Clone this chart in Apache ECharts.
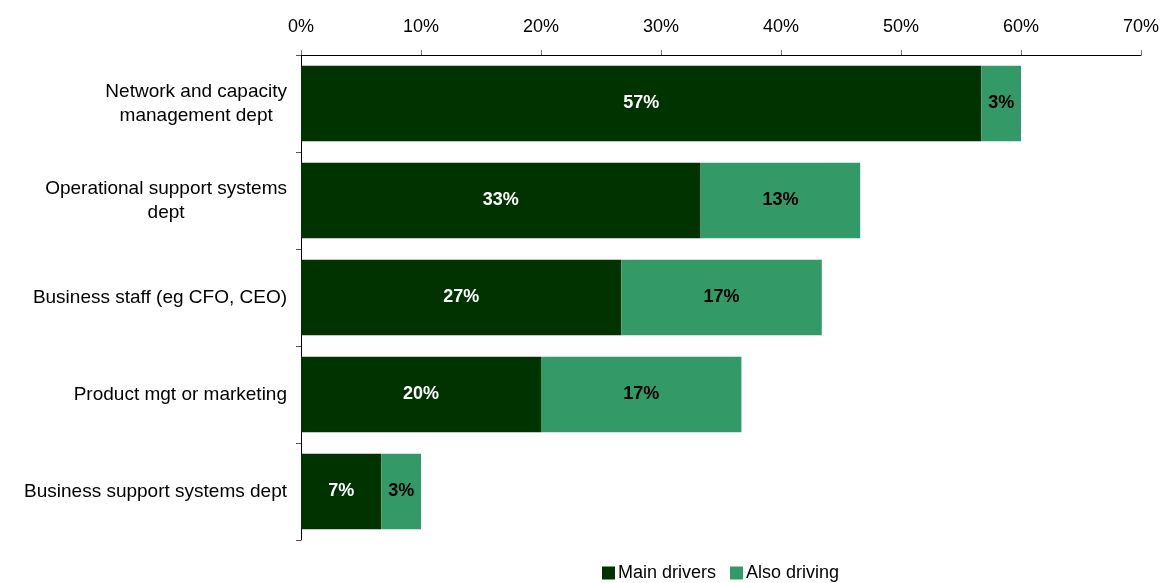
<!DOCTYPE html>
<html>
<head>
<meta charset="utf-8">
<script src="https://cdn.jsdelivr.net/npm/echarts@6.0.0/dist/echarts.min.js"></script>
<style>
  html, body { margin: 0; padding: 0; background: #fff; }
  #chart { width: 1168px; height: 583px; }
</style>
</head>
<body>
<div id="chart"></div>
<script>
const categories = [
  'Network and capacity\nmanagement dept',
  'Operational support systems\ndept',
  'Business staff (eg CFO, CEO)',
  'Product mgt or marketing',
  'Business support systems dept'
]
const mainDrivers = [56.7, 33.3, 26.7, 20.0, 6.7]
const alsoDriving = [3.3, 13.3, 16.7, 16.7, 3.3]
const seriesNames = ['Main drivers', 'Also driving']

const font = 'Liberation Sans, Arial, sans-serif'

const chart = echarts.init(document.getElementById('chart'))

const barLabel = (color) => ({
  show: true,
  position: 'inside',
  color: color,
  fontFamily: font,
  fontSize: 18,
  fontWeight: 'bold',
  formatter: (p) => Math.round(p.value) + '%'
})

chart.setOption({
  animation: false,
  grid: { left: 301, right: 27, top: 55, bottom: 43, containLabel: false },
  legend: {
    top: 559,
    left: 597,
    itemWidth: 13,
    itemHeight: 13,
    itemGap: 14,
    icon: 'rect',
    textStyle: { fontFamily: font, fontSize: 18, color: '#000', padding: [0, 0, 0, -2] },
    data: seriesNames
  },
  xAxis: {
    type: 'value',
    position: 'top',
    min: 0,
    max: 70,
    interval: 10,
    splitLine: { show: false },
    axisLine: { show: true, lineStyle: { color: '#000', width: 1 } },
    axisTick: { show: true, length: 5, lineStyle: { color: '#777' } },
    axisLabel: {
      formatter: '{value}%',
      color: '#000',
      fontFamily: font,
      fontSize: 18,
      margin: 19
    }
  },
  yAxis: {
    type: 'category',
    inverse: true,
    data: categories,
    axisLine: { show: true, lineStyle: { color: '#000', width: 1 } },
    axisTick: { show: true, length: 5, alignWithLabel: false, lineStyle: { color: '#555' } },
    axisLabel: {
      color: '#000',
      fontFamily: font,
      fontSize: 19,
      margin: 14,
      lineHeight: 24,
      formatter: (v) => v.split('\n').map((s) => '{c|' + s + '}').join('\n'),
      rich: {
        c: { align: 'center', fontFamily: font, fontSize: 19, color: '#000', lineHeight: 24 }
      }
    }
  },
  series: [
    {
      name: seriesNames[0],
      type: 'bar',
      stack: 'total',
      barCategoryGap: '22%',
      itemStyle: { color: '#003300' },
      label: barLabel('#fff'),
      data: mainDrivers
    },
    {
      name: seriesNames[1],
      type: 'bar',
      stack: 'total',
      barCategoryGap: '22%',
      itemStyle: { color: '#339966' },
      label: barLabel('#000'),
      data: alsoDriving
    }
  ]
})
</script>
</body>
</html>
